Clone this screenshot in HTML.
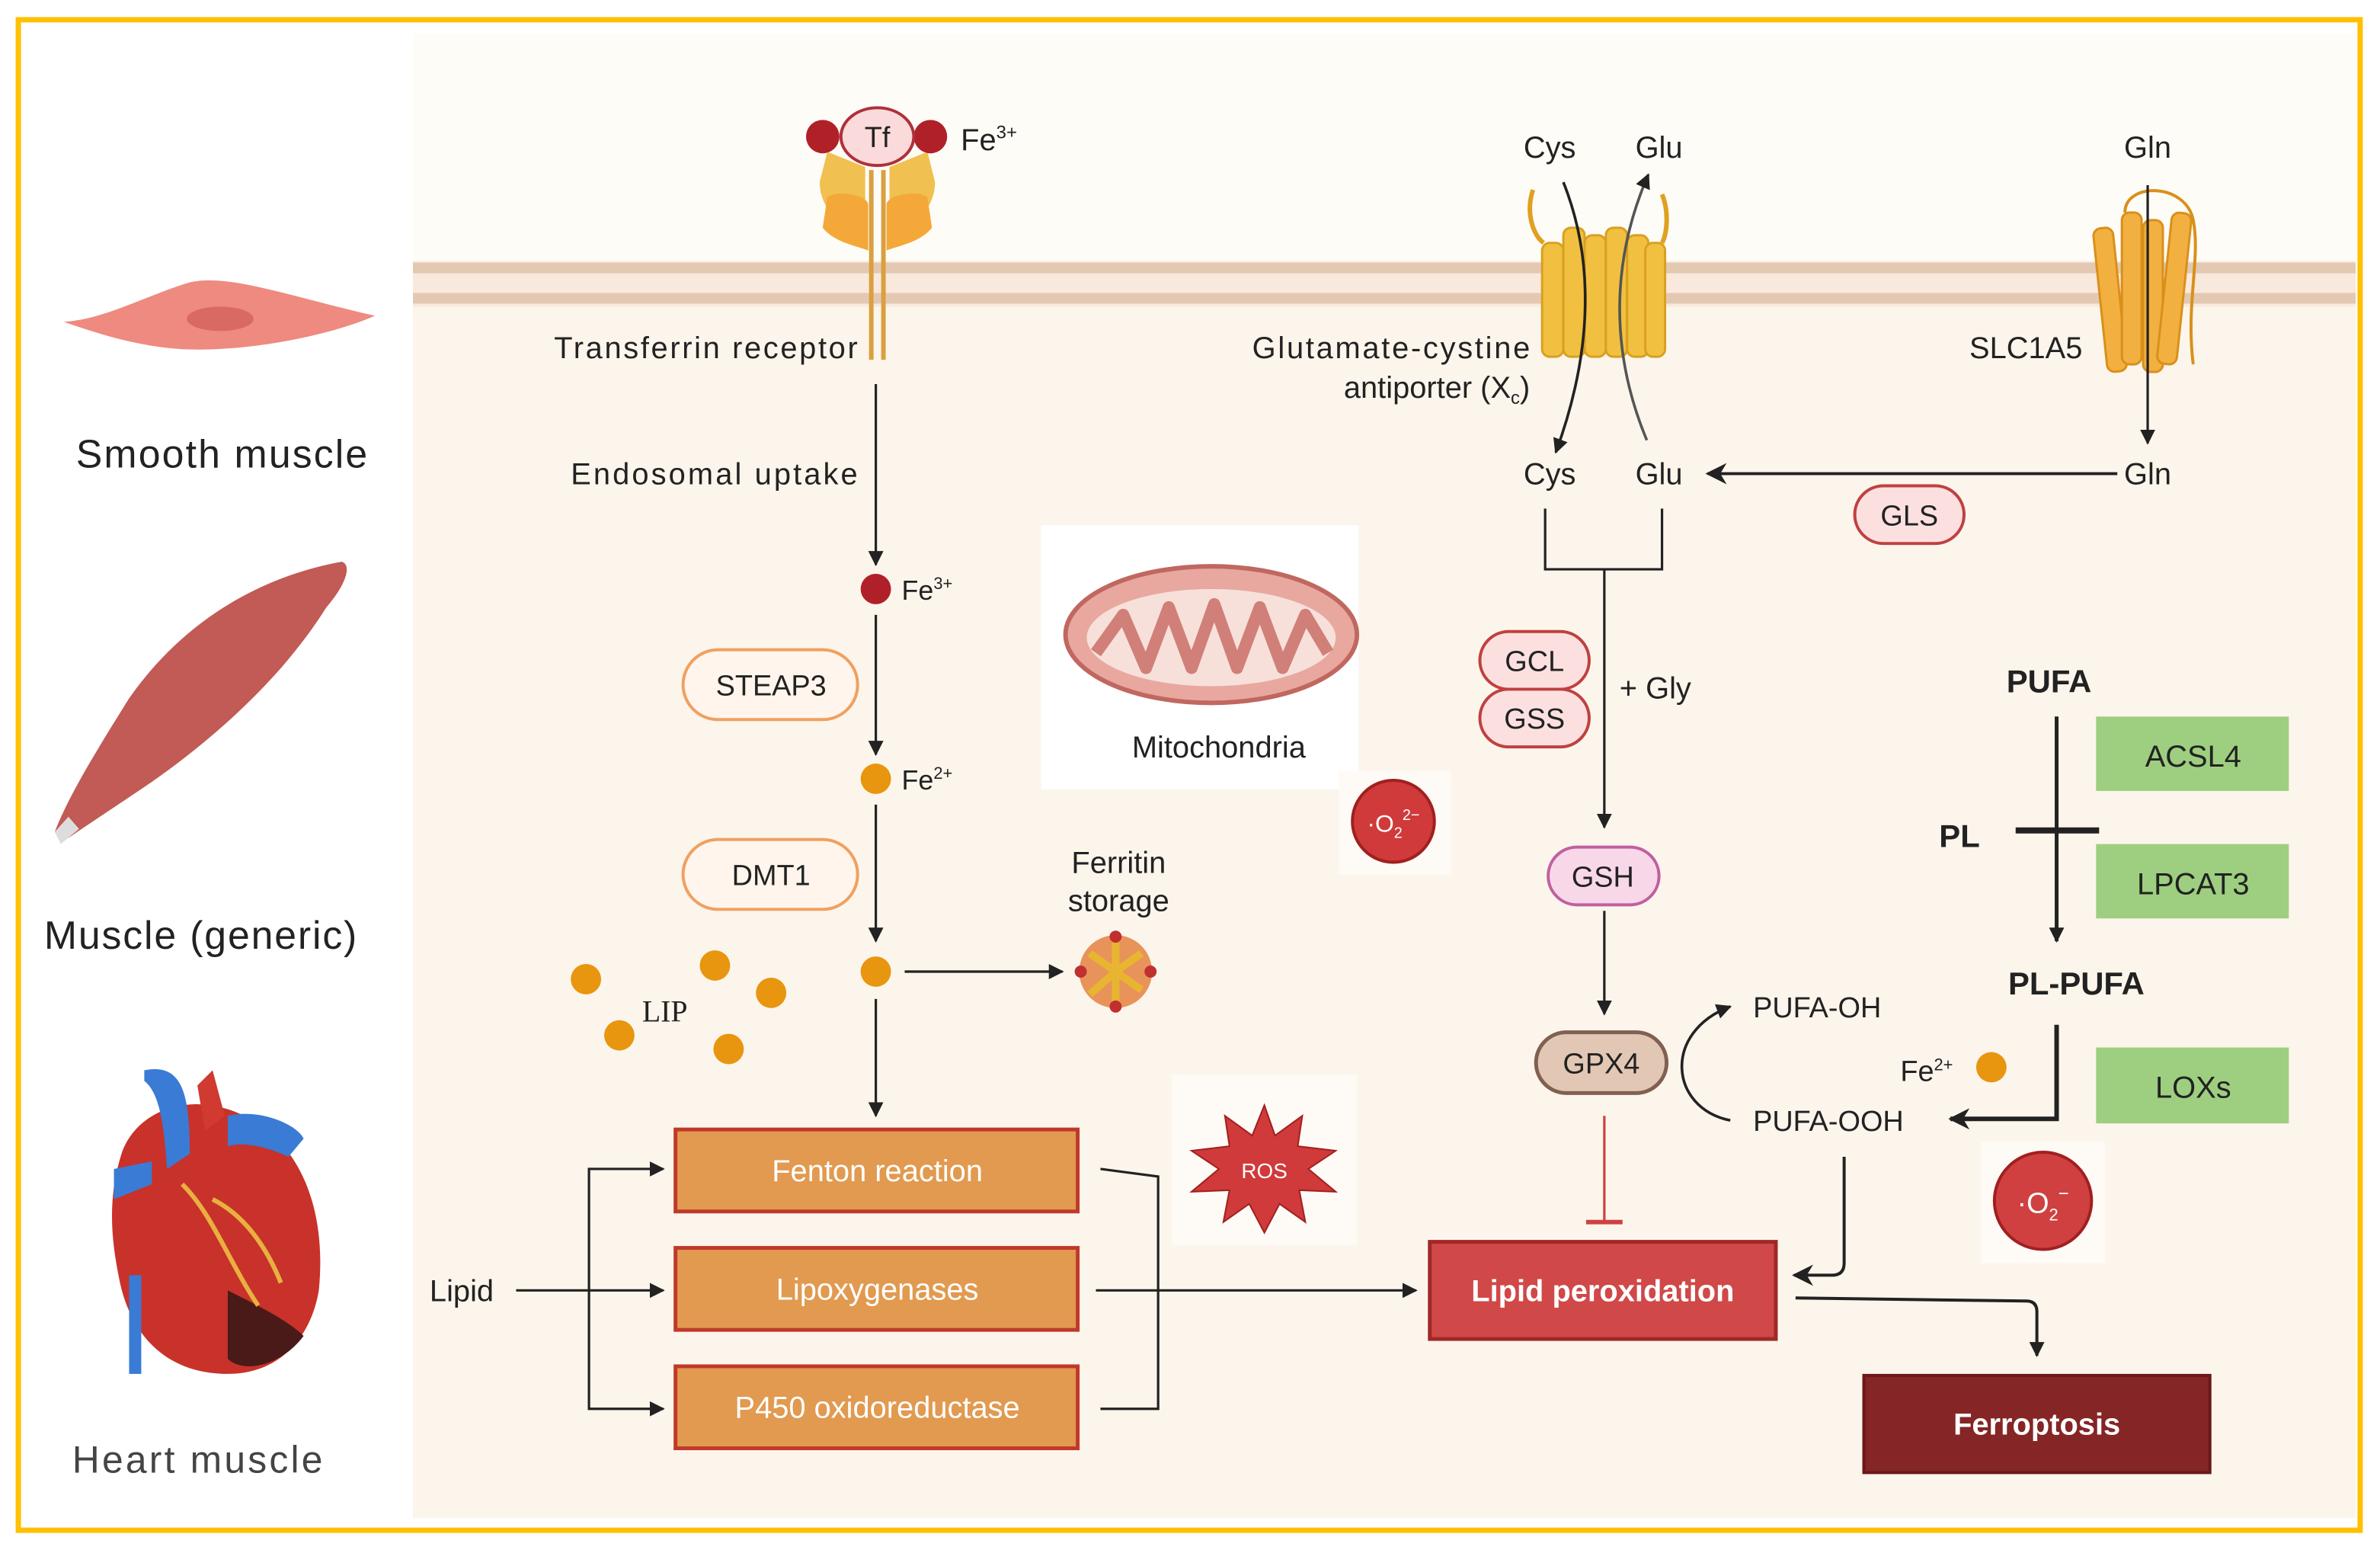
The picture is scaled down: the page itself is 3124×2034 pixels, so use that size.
<!DOCTYPE html>
<html><head><meta charset="utf-8"><style>
html,body{margin:0;padding:0;background:#fff;}
svg{display:block;}
text{font-family:"Liberation Sans",sans-serif;fill:#222;}
</style></head><body>
<svg width="3124" height="2034" viewBox="0 0 1568 1021" xmlns="http://www.w3.org/2000/svg">
<defs>
<marker id="a" viewBox="0 0 10 10" refX="9" refY="5" markerWidth="10" markerHeight="10" orient="auto-start-reverse" markerUnits="userSpaceOnUse"><path d="M0,0 L10,5 L0,10 z" fill="#222"/></marker>
<marker id="b" viewBox="0 0 10 10" refX="9" refY="5" markerWidth="14" markerHeight="14" orient="auto" markerUnits="userSpaceOnUse"><path d="M0,0 L10,5 L0,10 L3,5 z" fill="#222"/></marker>
</defs>
<rect x="0" y="0" width="1568" height="1021" fill="#fff"/>
<rect x="272" y="22" width="1280" height="160" fill="#FEFCF7"/>
<rect x="272" y="180" width="1280" height="820" fill="#FCF5EC"/>
<rect x="272" y="172" width="1280" height="30" fill="#F9E8DC"/>
<rect x="272" y="173" width="1280" height="7" fill="#E3C9B2"/>
<rect x="272" y="193" width="1280" height="7" fill="#E3C9B2"/>
<rect x="12" y="13" width="1543" height="995" fill="none" stroke="#FFC000" stroke-width="3.5"/>

<path d="M42,212 C70,210 95,195 125,186 C150,180 190,195 247,208 C215,222 160,232 120,230 C90,228 65,220 42,212 z" fill="#EE8A80"/>
<ellipse cx="145" cy="210" rx="22" ry="8" fill="#D86A62"/>
<text x="146" y="308" font-size="26" text-anchor="middle" textLength="192">Smooth muscle</text>
<path d="M36,548 C45,525 60,500 85,460 C120,410 170,380 225,370 C232,372 228,385 215,400 C190,440 150,480 100,515 C75,532 55,545 45,552 z" fill="#C25A55"/>
<path d="M36,548 L45,538 L52,546 L40,556 z" fill="#ddd"/>
<text x="132" y="625" font-size="26" text-anchor="middle" textLength="206">Muscle (generic)</text>
<path d="M80,760 C90,730 130,715 170,740 C200,760 215,800 210,850 C205,880 185,905 150,905 C110,905 85,880 78,840 C72,810 72,785 80,760 z" fill="#C8322A"/>
<path d="M150,850 C170,860 190,870 200,880 C185,900 160,905 150,895 z" fill="#4A1A18"/>
<rect x="85" y="840" width="8" height="65" fill="#3A7BD5"/>
<path d="M95,705 C120,700 125,720 125,760 L110,770 C108,740 105,720 95,712 z" fill="#3A7BD5"/>
<path d="M130,715 L140,705 L148,735 L135,745 z" fill="#D03A30"/>
<path d="M150,735 C170,730 195,740 200,750 L190,762 C175,755 160,752 150,755 z" fill="#3A7BD5"/>
<path d="M75,770 L100,765 L100,780 L75,790 z" fill="#3A7BD5"/>
<path d="M120,780 C140,800 150,830 170,860 M140,790 C160,800 175,820 185,845" stroke="#E8B040" stroke-width="3" fill="none"/>
<text x="130" y="970" font-size="25" text-anchor="middle" style="fill:#444" textLength="165">Heart muscle</text>

<path d="M545,100 L570,110 L570,150 L555,150 C545,140 540,130 540,120 z" fill="#F0C050"/>
<path d="M611,100 L586,110 L586,150 L601,150 C611,140 616,130 616,120 z" fill="#F0C050"/>
<path d="M545,130 C550,125 572,128 572,135 L572,165 C565,162 550,160 542,150 z" fill="#F4A83A"/>
<path d="M611,130 C606,125 584,128 584,135 L584,165 C591,162 606,160 614,150 z" fill="#F4A83A"/>
<line x1="574" y1="112" x2="574" y2="237" stroke="#D9A040" stroke-width="3"/>
<line x1="582" y1="112" x2="582" y2="237" stroke="#D9A040" stroke-width="3"/>
<circle cx="542" cy="90" r="11" fill="#B02028"/>
<circle cx="613" cy="90" r="11" fill="#B02028"/>
<ellipse cx="578" cy="90" rx="24" ry="19" fill="#FADADA" stroke="#B0303A" stroke-width="2"/>
<text x="578" y="97" font-size="19" text-anchor="middle">Tf</text>
<text x="633" y="99" font-size="20">Fe<tspan font-size="12" dy="-8">3+</tspan></text>
<text x="565" y="236" font-size="20" text-anchor="end" textLength="200">Transferrin receptor</text>
<text x="565" y="319" font-size="20" text-anchor="end" textLength="189">Endosomal uptake</text>
<line x1="577" y1="253" x2="577" y2="372" stroke="#222" stroke-width="1.6" marker-end="url(#a)"/>
<circle cx="577" cy="388" r="10" fill="#B02028"/>
<text x="594" y="395" font-size="18">Fe<tspan font-size="11" dy="-7">3+</tspan></text>
<rect x="450" y="428" width="115" height="46" rx="23" fill="#FFF5EC" stroke="#F0A060" stroke-width="2"/>
<text x="508" y="458" font-size="19" text-anchor="middle">STEAP3</text>
<line x1="577" y1="405" x2="577" y2="497" stroke="#222" stroke-width="1.6" marker-end="url(#a)"/>
<circle cx="577" cy="513" r="10" fill="#E8960F"/>
<text x="594" y="520" font-size="18">Fe<tspan font-size="11" dy="-7">2+</tspan></text>
<rect x="450" y="553" width="115" height="46" rx="23" fill="#FFF5EC" stroke="#F0A060" stroke-width="2"/>
<text x="508" y="583" font-size="19" text-anchor="middle">DMT1</text>
<line x1="577" y1="530" x2="577" y2="620" stroke="#222" stroke-width="1.6" marker-end="url(#a)"/>
<circle cx="577" cy="640" r="10" fill="#E8960F"/>
<line x1="596" y1="640" x2="700" y2="640" stroke="#222" stroke-width="1.6" marker-end="url(#a)"/>
<text x="737" y="575" font-size="20" text-anchor="middle">Ferritin</text>
<text x="737" y="600" font-size="20" text-anchor="middle">storage</text>
<circle cx="735" cy="640" r="24" fill="#E8935A"/>
<path d="M718,628 L735,640 L752,628 M718,655 L735,640 L752,652 M735,618 L735,662" stroke="#E8B530" stroke-width="5" fill="none"/>
<circle cx="712" cy="640" r="4" fill="#C03030"/><circle cx="758" cy="640" r="4" fill="#C03030"/><circle cx="735" cy="617" r="4" fill="#C03030"/><circle cx="735" cy="663" r="4" fill="#C03030"/>
<g fill="#E8960F"><circle cx="386" cy="645" r="10"/><circle cx="471" cy="636" r="10"/><circle cx="508" cy="654" r="10"/><circle cx="408" cy="682" r="10"/><circle cx="480" cy="691" r="10"/></g>
<text x="438" y="673" font-size="20" text-anchor="middle" style="font-family:'Liberation Serif',serif">LIP</text>
<line x1="577" y1="658" x2="577" y2="735" stroke="#222" stroke-width="1.6" marker-end="url(#a)"/>

<g stroke="#C0392B" stroke-width="2.5" fill="#E19A50">
<rect x="445" y="744" width="265" height="54"/>
<rect x="445" y="822" width="265" height="54"/>
<rect x="445" y="900" width="265" height="54"/>
</g>
<text x="578" y="778" font-size="20" text-anchor="middle" style="fill:#fff">Fenton reaction</text>
<text x="578" y="856" font-size="20" text-anchor="middle" style="fill:#fff">Lipoxygenases</text>
<text x="578" y="934" font-size="20" text-anchor="middle" style="fill:#fff">P450 oxidoreductase</text>
<text x="283" y="857" font-size="20">Lipid</text>
<line x1="340" y1="850" x2="437" y2="850" stroke="#222" stroke-width="1.6" marker-end="url(#a)"/>
<path d="M437,770 L388,770 L388,928 L437,928" fill="none" stroke="#222" stroke-width="1.6" marker-start="url(#a)" marker-end="url(#a)"/>
<path d="M725,770 L763,775 L763,928 L725,928" fill="none" stroke="#222" stroke-width="1.6"/>
<line x1="722" y1="850" x2="933" y2="850" stroke="#222" stroke-width="1.6" marker-end="url(#a)"/>
<rect x="772" y="708" width="122" height="112" fill="#FEFAF6"/>
<path d="M833,728 L840,748 L858,735 L855,755 L880,758 L862,770 L880,785 L856,784 L860,805 L843,793 L833,812 L823,793 L806,805 L810,784 L785,785 L803,770 L785,758 L810,755 L807,735 L825,748 z" fill="#D03A3A" stroke="#A02020"/>
<text x="833" y="776" font-size="14" text-anchor="middle" style="fill:#fff">ROS</text>

<rect x="686" y="346" width="209" height="174" fill="#fff"/>
<ellipse cx="798" cy="418" rx="96" ry="45" fill="#E8A8A0" stroke="#C06860" stroke-width="3"/>
<ellipse cx="798" cy="420" rx="82" ry="32" fill="#F8E0DA"/>
<path d="M722,430 L740,405 L755,440 L770,400 L785,440 L800,398 L815,440 L830,400 L845,440 L860,405 L875,430" fill="none" stroke="#D08078" stroke-width="8" stroke-linejoin="round"/>
<text x="803" y="499" font-size="20" text-anchor="middle">Mitochondria</text>
<rect x="882" y="508" width="74" height="68" fill="#FEFAF6"/>
<circle cx="918" cy="541" r="27" fill="#D03A3A" stroke="#A02020" stroke-width="2"/>
<text x="918" y="548" font-size="16" text-anchor="middle" style="fill:#fff">·O<tspan font-size="10" dy="4">2</tspan><tspan font-size="10" dy="-12">2−</tspan></text>

<rect x="942" y="818" width="228" height="64" fill="#D04848" stroke="#A02828" stroke-width="2.5"/>
<text x="1056" y="857" font-size="20" font-weight="bold" text-anchor="middle" style="fill:#fff">Lipid peroxidation</text>
<rect x="1228" y="906" width="228" height="64" fill="#852525" stroke="#6A1818" stroke-width="2"/>
<text x="1342" y="945" font-size="20" font-weight="bold" text-anchor="middle" style="fill:#fff">Ferroptosis</text>
<path d="M1183,855 L1335,857 Q1342,857 1342,864 L1342,893" fill="none" stroke="#222" stroke-width="2" marker-end="url(#a)"/>

<g fill="#F2C040" stroke="#D9A020" stroke-width="1.5">
<rect x="1016" y="160" width="14" height="75" rx="5"/><rect x="1030" y="150" width="14" height="85" rx="5"/><rect x="1044" y="155" width="14" height="80" rx="5"/><rect x="1058" y="150" width="14" height="85" rx="5"/><rect x="1072" y="155" width="14" height="80" rx="5"/><rect x="1084" y="160" width="13" height="75" rx="5"/>
</g>
<path d="M1010,125 C1005,140 1010,155 1017,160 M1095,128 C1100,140 1098,155 1095,160" stroke="#E0A020" stroke-width="3" fill="none"/>
<text x="1021" y="104" font-size="20" text-anchor="middle">Cys</text>
<text x="1093" y="104" font-size="20" text-anchor="middle">Glu</text>
<path d="M1030,120 C1050,170 1050,230 1025,298" fill="none" stroke="#222" stroke-width="1.8" marker-end="url(#a)"/>
<path d="M1085,290 C1060,230 1062,170 1086,115" fill="none" stroke="#555" stroke-width="1.8" marker-end="url(#a)"/>
<text x="1008" y="236" font-size="20" text-anchor="end" textLength="183">Glutamate-cystine</text>
<text x="1008" y="262" font-size="20" text-anchor="end">antiporter (X<tspan font-size="12" dy="4">c</tspan><tspan dy="-4">)</tspan></text>
<g fill="#F2B040" stroke="#D9901A" stroke-width="1.5">
<rect x="1384" y="150" width="13" height="95" rx="5" transform="rotate(-6 1390 200)"/>
<rect x="1398" y="140" width="13" height="100" rx="5"/>
<rect x="1412" y="145" width="13" height="100" rx="5"/>
<rect x="1426" y="140" width="13" height="100" rx="5" transform="rotate(6 1432 190)"/>
</g>
<path d="M1400,140 C1400,120 1440,120 1445,145 C1450,170 1440,200 1445,240" stroke="#D9901A" stroke-width="2" fill="none"/>
<text x="1415" y="104" font-size="20" text-anchor="middle">Gln</text>
<line x1="1415" y1="122" x2="1415" y2="292" stroke="#222" stroke-width="1.6" marker-end="url(#a)"/>
<text x="1372" y="236" font-size="20" text-anchor="end">SLC1A5</text>
<text x="1021" y="319" font-size="20" text-anchor="middle">Cys</text>
<text x="1093" y="319" font-size="20" text-anchor="middle">Glu</text>
<text x="1415" y="319" font-size="20" text-anchor="middle">Gln</text>
<line x1="1395" y1="312" x2="1125" y2="312" stroke="#222" stroke-width="2" marker-end="url(#b)"/>
<rect x="1222" y="320" width="72" height="38" rx="19" fill="#FCE0E0" stroke="#C04040" stroke-width="2"/>
<text x="1258" y="346" font-size="19" text-anchor="middle">GLS</text>
<path d="M1018,335 L1018,375 L1095,375 L1095,335" fill="none" stroke="#222" stroke-width="1.6"/>
<line x1="1057" y1="375" x2="1057" y2="545" stroke="#222" stroke-width="1.6" marker-end="url(#a)"/>
<rect x="975" y="416" width="72" height="38" rx="19" fill="#FCE0E0" stroke="#C04040" stroke-width="2"/>
<rect x="975" y="454" width="72" height="38" rx="19" fill="#FCE0E0" stroke="#C04040" stroke-width="2"/>
<text x="1011" y="442" font-size="19" text-anchor="middle">GCL</text>
<text x="1011" y="480" font-size="19" text-anchor="middle">GSS</text>
<text x="1067" y="460" font-size="20">+ Gly</text>
<rect x="1020" y="558" width="73" height="38" rx="19" fill="#F8D8E8" stroke="#C060A0" stroke-width="2"/>
<text x="1056" y="584" font-size="19" text-anchor="middle">GSH</text>
<line x1="1057" y1="600" x2="1057" y2="668" stroke="#222" stroke-width="1.6" marker-end="url(#a)"/>
<rect x="1012" y="680" width="86" height="40" rx="20" fill="#E2C8B4" stroke="#806050" stroke-width="2.5"/>
<text x="1055" y="707" font-size="19" text-anchor="middle">GPX4</text>
<line x1="1057" y1="735" x2="1057" y2="804" stroke="#D04040" stroke-width="1.6"/>
<line x1="1045" y1="805" x2="1069" y2="805" stroke="#D04040" stroke-width="3"/>
<path d="M1140,738 C1100,730 1095,680 1140,663" fill="none" stroke="#222" stroke-width="1.8" marker-end="url(#a)"/>
<text x="1155" y="670" font-size="19">PUFA-OH</text>
<text x="1155" y="745" font-size="19">PUFA-OOH</text>
<text x="1252" y="712" font-size="19">Fe<tspan font-size="11" dy="-7">2+</tspan></text>
<circle cx="1312" cy="703" r="10" fill="#E8960F"/>
<path d="M1215,762 L1215,832 Q1215,840 1207,840 L1182,840" fill="none" stroke="#222" stroke-width="2" marker-end="url(#b)"/>

<text x="1350" y="456" font-size="21" font-weight="bold" text-anchor="middle">PUFA</text>
<line x1="1355" y1="472" x2="1355" y2="620" stroke="#222" stroke-width="2.5" marker-end="url(#a)"/>
<line x1="1328" y1="547" x2="1383" y2="547" stroke="#222" stroke-width="4"/>
<text x="1291" y="558" font-size="21" font-weight="bold" text-anchor="middle">PL</text>
<text x="1368" y="655" font-size="21" font-weight="bold" text-anchor="middle">PL-PUFA</text>
<rect x="1381" y="472" width="127" height="49" fill="#9ECF80"/>
<rect x="1381" y="556" width="127" height="49" fill="#9ECF80"/>
<rect x="1381" y="690" width="127" height="50" fill="#9ECF80"/>
<text x="1445" y="505" font-size="20" text-anchor="middle">ACSL4</text>
<text x="1445" y="589" font-size="20" text-anchor="middle">LPCAT3</text>
<text x="1445" y="723" font-size="20" text-anchor="middle">LOXs</text>
<path d="M1355,675 L1355,737 L1285,737" fill="none" stroke="#222" stroke-width="3" marker-end="url(#b)"/>
<rect x="1305" y="752" width="82" height="80" fill="#FEFAF6"/>
<circle cx="1346" cy="791" r="32" fill="#D04040" stroke="#A02020" stroke-width="2"/>
<text x="1346" y="799" font-size="19" text-anchor="middle" style="fill:#fff">·O<tspan font-size="11" dy="5">2</tspan><tspan font-size="12" dy="-14">−</tspan></text>
</svg>
</body></html>
